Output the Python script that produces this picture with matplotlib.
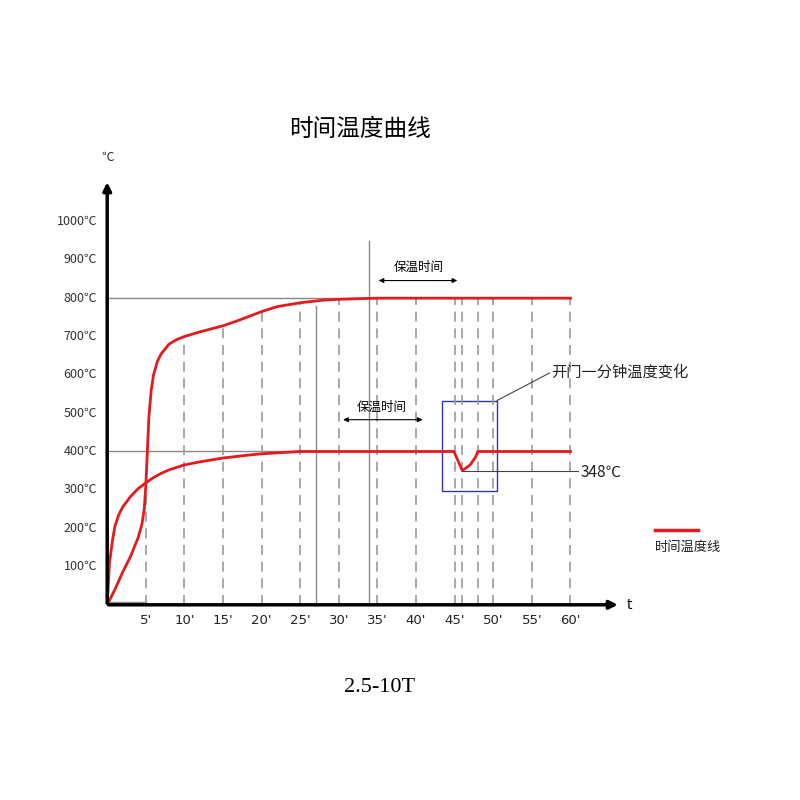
import matplotlib
matplotlib.use("Agg")
import matplotlib.pyplot as plt
import numpy as np

plt.rcParams['font.family'] = ['Noto Sans CJK SC', 'DejaVu Sans']

# data
x_ticks = [5, 10, 15, 20, 25, 30, 35, 40, 45, 50, 55, 60]
x_labels = ["5'", "10'", "15'", "20'", "25'", "30'", "35'", "40'", "45'", "50'", "55'", "60'"]
y_ticks = [100, 200, 300, 400, 500, 600, 700, 800, 900, 1000]
y_labels = [f"{v}℃" for v in y_ticks]

hi_t = [0, 1, 2, 3, 3.5, 4, 4.5, 4.8, 5.0, 5.2, 5.4, 5.7, 6.0, 6.5, 7, 8, 9, 10, 12, 15, 17, 20, 22, 25, 28, 30, 33, 35, 60]
hi_v = [0, 40, 85, 125, 150, 175, 210, 250, 310, 400, 490, 560, 600, 635, 655, 680, 692, 700, 712, 728, 742, 765, 778, 788, 795, 797, 799, 800, 800]
lo_t = [0, 0.3, 0.7, 1, 1.5, 2, 3, 4, 5, 6, 7, 8, 10, 12, 15, 18, 20, 25, 30, 44.9, 46, 47, 47.7, 48, 60]
lo_v = [0, 110, 170, 205, 235, 255, 282, 303, 318, 332, 343, 352, 365, 373, 383, 390, 394, 400, 400, 400, 350, 365, 385, 400, 400]

extra_dash = [46.0, 48.0]
solid_v = [(27.1, 780), (33.9, 950)]

fig = plt.figure(figsize=(8, 8), dpi=100)
ax = fig.add_axes([0.134, 0.244, 0.637, 0.527])
ax.set_xlim(0, 66)
ax.set_ylim(0, 1100)
ax.axis('off')

red = '#e41a1c'
gray = '#888888'

ax.plot([0, 34], [800, 800], color=gray, lw=1)
ax.plot([0, 28], [400, 400], color=gray, lw=1)
ax.plot([0, 5], [8, 8], color=gray, lw=1)

for t in x_ticks + extra_dash:
    top = min(float(np.interp(t, hi_t, hi_v)), 800) if t <= 33 else 800
    if t == 5:
        top = 318
    ax.plot([t, t], [0, top], color='#999999', lw=1.2, ls=(0, (6, 4)))
for t, top in solid_v:
    ax.plot([t, t], [0, top], color=gray, lw=1)

ax.plot(hi_t, hi_v, color=red, lw=2)
ax.plot(lo_t, lo_v, color=red, lw=2)

ax.annotate('', xy=(66.5, 0), xytext=(-0.2, 0), annotation_clip=False,
            arrowprops=dict(arrowstyle='-|>', color='black', lw=2.5, mutation_scale=12))
ax.annotate('', xy=(0, 1110), xytext=(0, -3), annotation_clip=False,
            arrowprops=dict(arrowstyle='-|>', color='black', lw=2.5, mutation_scale=12))
ax.text(67.3, 0, 't', fontsize=10, va='center', family='DejaVu Sans')
ax.text(0, 1167, '℃', fontsize=9, ha='center', va='center', color='#333333')

for t, l in zip(x_ticks, x_labels):
    ax.text(t, -40, l, ha='center', va='center', fontsize=9.5, family='DejaVu Sans', color='#222222')
for v, l in zip(y_ticks, y_labels):
    ax.text(-1.3, v, l, ha='right', va='center', fontsize=9, color='#333333')

ax.annotate('', xy=(45.7, 846), xytext=(34.8, 846),
            arrowprops=dict(arrowstyle='<|-|>', color='black', lw=0.8, mutation_scale=7))
ax.text(40.3, 880, '保温时间', ha='center', va='center', fontsize=9)
ax.annotate('', xy=(41.2, 483), xytext=(30.2, 483),
            arrowprops=dict(arrowstyle='<|-|>', color='black', lw=0.8, mutation_scale=7))
ax.text(35.5, 515, '保温时间', ha='center', va='center', fontsize=9)

ax.add_patch(plt.Rectangle((43.4, 298), 7.1, 235, fill=False, ec='#3333aa', lw=1))
ax.plot([50.5, 57.3], [533, 605], color='#444444', lw=0.8)
ax.text(57.5, 608, '开门一分钟温度变化', va='center', fontsize=11, color='#222222')
ax.plot([46, 61], [350, 350], color='#444444', lw=0.8)
ax.text(61.3, 345, '348℃', va='center', fontsize=11, color='#222222')

ax.plot([71, 76.5], [194, 194], color=red, lw=2.5, clip_on=False)
ax.text(71, 150, '时间温度线', va='center', ha='left', fontsize=9.5, color='#222222')

fig.text(0.45, 0.838, '时间温度曲线', ha='center', va='center', fontsize=17)
fig.text(0.475, 0.14, '2.5-10T', ha='center', va='center', fontsize=16,
         family=['Liberation Serif', 'DejaVu Serif'])

fig.savefig('out.png', dpi=100, facecolor='white')
